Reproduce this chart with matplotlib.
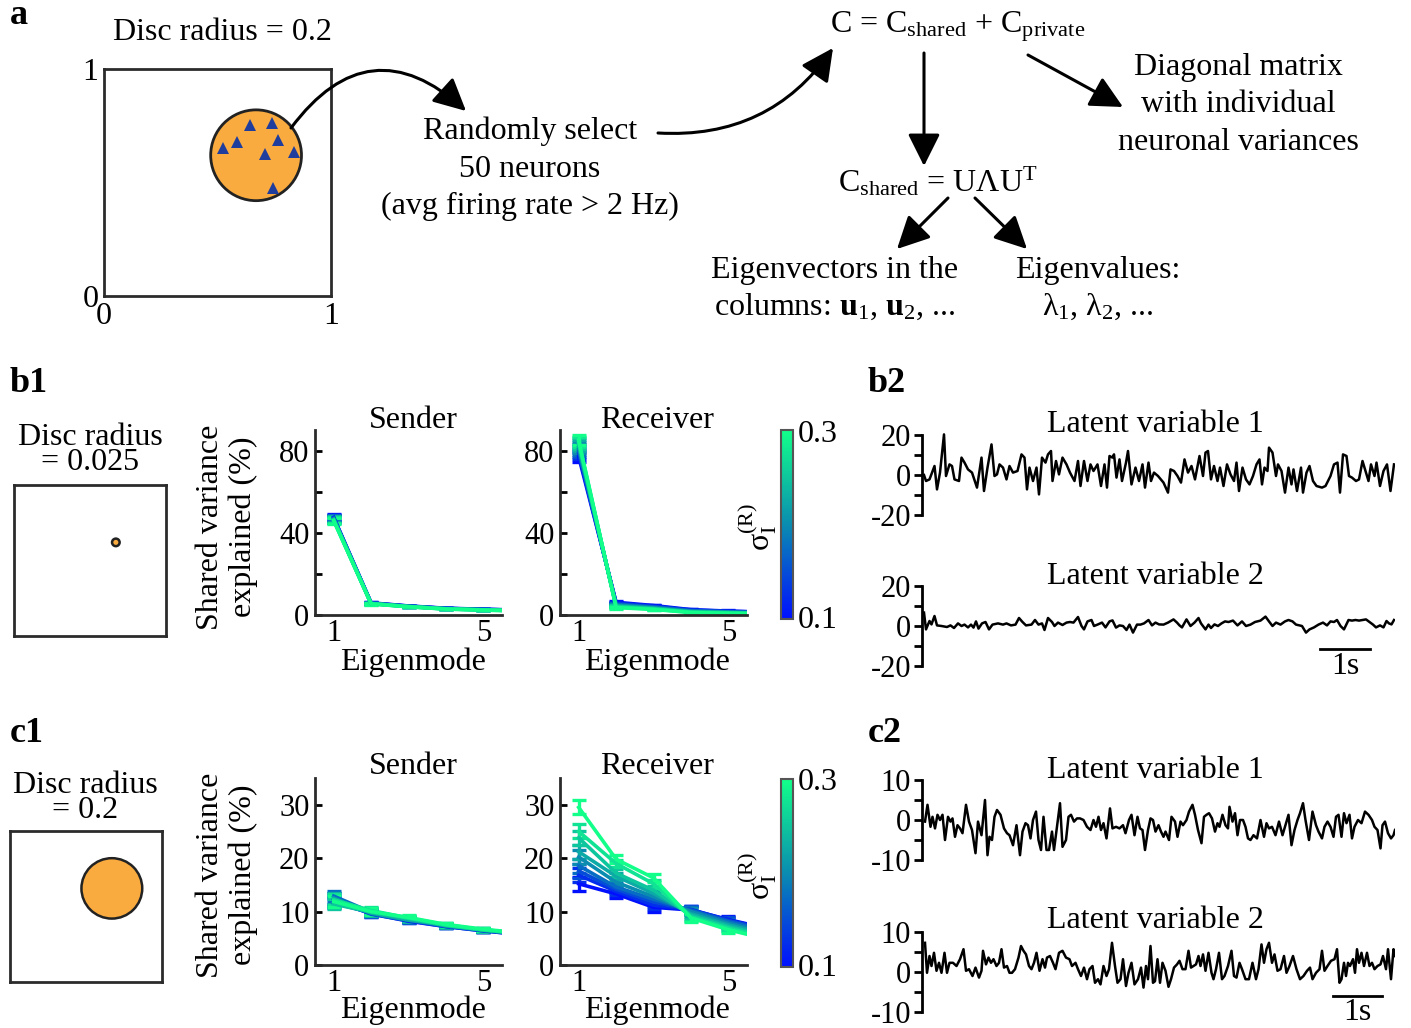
import numpy as np
import matplotlib
matplotlib.use('Agg')
import matplotlib.pyplot as plt
from matplotlib.patches import Circle, FancyArrowPatch
from matplotlib.colors import LinearSegmentedColormap, Normalize
from matplotlib.cm import ScalarMappable

plt.rcParams['font.family'] = ['Liberation Serif', 'DejaVu Serif']
plt.rcParams['mathtext.fontset'] = 'custom'
plt.rcParams['mathtext.rm'] = 'Liberation Serif'
plt.rcParams['mathtext.it'] = 'Liberation Serif:italic'
plt.rcParams['mathtext.bf'] = 'Liberation Serif:bold'
plt.rcParams['axes.unicode_minus'] = False

# ---------------- data ----------------
disc_center = (0.67, 0.62)
disc_radius_a = 0.2
disc_radius_b = 0.025
disc_radius_c = 0.2
neuron_x = [0.643, 0.740, 0.586, 0.524, 0.767, 0.709, 0.837, 0.744]
neuron_y = [0.753, 0.762, 0.678, 0.652, 0.687, 0.626, 0.634, 0.476]

modes = [1, 2, 3, 4, 5, 6]
sigmas = [0.1, 0.125, 0.15, 0.175, 0.2, 0.225, 0.25, 0.275, 0.3]

b1_send = [
    [47.5, 5.9, 4.4, 3.3, 2.8, 2.4],
    [47.3, 5.8, 4.3, 3.2, 2.7, 2.3],
    [47.1, 5.7, 4.3, 3.2, 2.7, 2.3],
    [46.9, 5.7, 4.2, 3.1, 2.6, 2.2],
    [46.7, 5.6, 4.2, 3.1, 2.6, 2.2],
    [46.5, 5.6, 4.1, 3.0, 2.5, 2.1],
    [46.3, 5.5, 4.1, 3.0, 2.5, 2.1],
    [46.1, 5.5, 4.0, 2.9, 2.4, 2.0],
    [45.9, 5.4, 4.0, 2.9, 2.4, 2.0],
]
b1_send_err = [1.5, 0.3, 0.2, 0.2, 0.2, 0.2]

b1_recv = [
    [77.0, 6.2, 4.6, 2.6, 1.9, 1.4],
    [78.5, 5.8, 4.3, 2.4, 1.8, 1.3],
    [79.5, 5.4, 4.0, 2.2, 1.6, 1.2],
    [80.5, 5.1, 3.8, 2.0, 1.5, 1.1],
    [81.5, 4.8, 3.5, 1.8, 1.3, 1.0],
    [82.5, 4.5, 3.3, 1.6, 1.2, 0.9],
    [83.5, 4.2, 3.1, 1.5, 1.1, 0.8],
    [84.3, 3.9, 2.9, 1.3, 0.9, 0.7],
    [85.0, 3.6, 2.7, 1.2, 0.8, 0.6],
]
b1_recv_err = [2.5, 0.5, 0.4, 0.3, 0.3, 0.2]

c1_send = [
    [12.0, 9.6, 8.2, 7.2, 6.4, 5.7],
    [11.6, 9.8, 8.4, 7.3, 6.5, 5.8],
    [12.4, 9.5, 8.3, 7.2, 6.4, 5.7],
    [12.9, 9.9, 8.5, 7.4, 6.5, 5.8],
    [11.8, 10.1, 8.6, 7.3, 6.6, 5.8],
    [12.5, 9.7, 8.4, 7.5, 6.5, 5.9],
    [11.4, 9.9, 8.7, 7.4, 6.6, 5.9],
    [12.2, 10.2, 8.8, 7.5, 6.6, 5.9],
    [11.9, 10.0, 8.9, 7.6, 6.7, 6.0],
]
c1_send_err = [1.0, 0.6, 0.4, 0.3, 0.3, 0.2]

c1_recv = [
    [15.2, 13.3, 10.8, 10.3, 8.5, 6.9],
    [16.8, 13.8, 11.2, 10.4, 8.4, 6.8],
    [17.6, 14.2, 11.8, 10.3, 8.3, 6.6],
    [18.6, 14.6, 12.3, 10.2, 8.1, 6.4],
    [20.2, 15.5, 12.8, 10.0, 7.8, 6.1],
    [21.2, 16.6, 13.4, 9.6, 7.5, 5.8],
    [23.8, 17.2, 14.0, 9.3, 7.2, 5.5],
    [25.0, 19.0, 15.2, 9.0, 6.9, 5.2],
    [29.5, 19.8, 16.3, 8.8, 6.6, 4.9],
]
c1_recv_err = [1.3, 0.7, 0.8, 0.7, 0.6, 0.5]

# latent variable traces (time in s, value)
b2_l1_t = [0.00, 0.04, 0.11, 0.21, 0.26, 0.32, 0.40, 0.44, 0.51, 0.56, 0.61, 0.70, 0.75, 0.81, 0.88, 0.96,
           1.06, 1.15, 1.20, 1.27, 1.35, 1.41, 1.46, 1.51, 1.58, 1.65, 1.71, 1.78, 1.87, 1.95, 2.01, 2.06,
           2.11, 2.18, 2.25, 2.30, 2.36, 2.43, 2.48, 2.54, 2.57, 2.64, 2.70, 2.77, 2.85, 2.92, 3.01, 3.08,
           3.13, 3.20, 3.27, 3.33, 3.39, 3.47, 3.54, 3.61, 3.66, 3.71, 3.77, 3.80, 3.85, 3.91, 3.96, 4.04,
           4.08, 4.15, 4.23, 4.30, 4.37, 4.42, 4.49, 4.54, 4.60, 4.68, 4.79, 4.88, 4.93, 5.00, 5.07, 5.14,
           5.21, 5.28, 5.35, 5.42, 5.51, 5.58, 5.63, 5.68, 5.74, 5.80, 5.87, 5.92, 5.99, 6.06, 6.13, 6.20,
           6.25, 6.30, 6.37, 6.44, 6.51, 6.58, 6.65, 6.71, 6.76, 6.81, 6.87, 6.90, 6.97, 7.04, 7.08, 7.15,
           7.22, 7.29, 7.35, 7.39, 7.46, 7.54, 7.58, 7.65, 7.71, 7.78, 7.85, 7.96, 8.03, 8.13, 8.20, 8.27,
           8.32, 8.38, 8.45, 8.50, 8.56, 8.64, 8.70, 8.77, 8.84, 8.89, 8.94, 9.01, 9.05, 9.12, 9.19, 9.26,
           9.33, 9.40]
b2_l1_v = [0.0, -3.0, -2.2, 4.5, -7.2, 1.2, 20.3, -0.5, 5.3, 4.5, -2.2, -3.0, 8.7, 6.2, 2.8, 1.2,
           -6.3, 8.7, -8.0, 3.7, 15.3, -0.5, 0.3, 5.3, 3.7, -2.2, 4.5, 1.2, 2.0, 10.3, 8.7, -7.2,
           3.7, -3.0, 3.7, -9.7, 8.7, 6.2, 10.3, 12.0, -3.0, 7.0, 0.3, 8.7, 5.3, 1.2, -3.0, 7.0,
           -5.5, 7.0, -3.0, 5.3, 2.0, 5.3, -5.5, 5.3, -6.3, 9.5, 8.7, 10.3, -1.3, 7.8, -3.0, 6.2,
           12.0, -4.7, 3.7, -3.0, 5.3, -6.3, 6.2, -3.0, 1.2, -0.5, -3.8, -8.8, 2.8, 2.0, -0.5, -3.8,
           7.8, 1.2, 4.5, -2.2, 9.5, -0.5, 11.2, 12.0, -2.2, 4.5, -3.0, 3.7, -5.5, 5.3, 0.3, -3.0,
           6.2, -8.0, 3.7, -2.2, -4.7, -0.5, 5.3, 7.8, -4.7, 3.7, 2.0, 13.7, 11.2, -0.5, 5.3, 2.0,
           -8.8, 3.7, -4.7, 2.8, -8.0, 3.7, -8.8, 1.2, 4.5, -3.0, -5.5, -6.3, -5.5, -0.5, 5.3, 6.2,
           -8.8, 10.3, 9.5, -0.5, -1.3, -3.0, -2.2, 7.0, 1.2, -3.0, 5.3, -0.5, 6.2, -5.5, 2.0, 5.3,
           -8.0, 5.3]

b2_l2_t = [0.00, 0.04, 0.11, 0.15, 0.21, 0.26, 0.35, 0.46, 0.53, 0.60, 0.68, 0.75, 0.81, 0.88, 0.94, 0.99,
           1.04, 1.09, 1.16, 1.23, 1.30, 1.37, 1.48, 1.58, 1.65, 1.74, 1.83, 1.90, 1.97, 2.04, 2.15, 2.22,
           2.29, 2.36, 2.41, 2.48, 2.56, 2.61, 2.68, 2.77, 2.85, 2.92, 2.99, 3.08, 3.15, 3.20, 3.27, 3.35,
           3.40, 3.47, 3.56, 3.63, 3.71, 3.77, 3.84, 3.91, 3.98, 4.05, 4.11, 4.18, 4.26, 4.33, 4.40, 4.49,
           4.56, 4.63, 4.70, 4.79, 4.88, 4.99, 5.06, 5.11, 5.16, 5.25, 5.33, 5.41, 5.49, 5.54, 5.63, 5.69,
           5.74, 5.81, 5.88, 5.95, 6.02, 6.09, 6.18, 6.27, 6.36, 6.44, 6.53, 6.62, 6.73, 6.83, 6.90, 6.97,
           7.04, 7.13, 7.22, 7.29, 7.37, 7.44, 7.56, 7.64, 7.71, 7.80, 7.89, 7.98, 8.06, 8.13, 8.20, 8.26,
           8.33, 8.40, 8.49, 8.56, 8.63, 8.70, 8.77, 8.84, 8.91, 8.98, 9.04, 9.12, 9.19, 9.25, 9.30, 9.35,
           9.40]
b2_l2_v = [6.7, -1.7, 2.5, 0.8, 5.0, 0.3, 0.0, -0.5, 0.3, -1.0, 1.3, 0.0, 0.7, -0.7, 0.7, -0.8,
           2.3, -1.3, 1.3, 2.0, -1.7, 0.7, 1.3, 0.7, 1.3, 0.3, 0.7, 4.0, 2.0, 0.3, 0.7, 3.0,
           0.7, 1.3, -2.0, 4.0, 2.0, 0.0, 1.7, 0.5, 1.7, 2.0, 1.7, 4.5, 0.0, -1.7, 2.3, 3.0,
           0.0, 0.7, 1.7, -0.7, 2.3, 2.8, -0.8, 0.3, 0.0, -2.0, 0.7, -3.3, 0.7, 0.7, 1.3, 3.0,
           0.3, 1.7, 0.8, 0.7, 1.7, 3.3, 1.7, 0.3, -0.7, 3.3, 0.0, 1.7, 4.0, 1.3, -1.7, 0.7,
           -1.0, 0.8, 0.0, 1.3, 2.3, 2.0, 2.7, 0.3, 2.3, 0.0, 0.7, 2.0, 2.7, 4.7, 2.3, 0.0,
           1.7, 0.7, 2.3, 3.0, 2.3, 0.7, 0.0, -3.3, -1.7, -0.7, 0.7, 1.7, 0.3, 2.3, 2.0, 3.0,
           0.0, -1.7, 3.0, 2.7, 3.0, 2.7, 3.0, 3.3, 2.0, 0.7, -0.7, 0.3, -0.7, 2.5, 1.3, 0.8,
           3.0]

c2_l1_t = [0.00, 0.05, 0.11, 0.15, 0.20, 0.25, 0.30, 0.35, 0.40, 0.46, 0.51, 0.55, 0.60, 0.65, 0.70, 0.75,
           0.82, 0.88, 0.94, 1.01, 1.06, 1.13, 1.20, 1.25, 1.29, 1.34, 1.39, 1.44, 1.51, 1.58, 1.64, 1.69,
           1.76, 1.83, 1.90, 1.95, 2.01, 2.06, 2.11, 2.16, 2.22, 2.27, 2.32, 2.37, 2.43, 2.48, 2.54, 2.58,
           2.64, 2.70, 2.75, 2.82, 2.87, 2.92, 2.98, 3.04, 3.10, 3.17, 3.24, 3.31, 3.37, 3.42, 3.47, 3.52,
           3.57, 3.63, 3.70, 3.75, 3.82, 3.89, 3.96, 4.01, 4.08, 4.13, 4.19, 4.25, 4.30, 4.35, 4.40, 4.46,
           4.51, 4.56, 4.61, 4.67, 4.72, 4.77, 4.81, 4.88, 4.93, 5.00, 5.05, 5.11, 5.16, 5.23, 5.28, 5.35,
           5.40, 5.46, 5.53, 5.58, 5.63, 5.68, 5.74, 5.80, 5.85, 5.89, 5.95, 6.01, 6.06, 6.09, 6.15, 6.20,
           6.25, 6.30, 6.36, 6.41, 6.46, 6.51, 6.57, 6.64, 6.71, 6.78, 6.83, 6.88, 6.94, 7.01, 7.08, 7.15,
           7.20, 7.27, 7.33, 7.39, 7.45, 7.50, 7.56, 7.61, 7.68, 7.75, 7.82, 7.87, 7.94, 7.99, 8.05, 8.11,
           8.17, 8.22, 8.27, 8.33, 8.38, 8.43, 8.49, 8.54, 8.59, 8.66, 8.73, 8.80, 8.87, 8.94, 8.99, 9.05,
           9.11, 9.15, 9.20, 9.26, 9.32, 9.37, 9.40]
c2_l1_v = [-0.4, 3.8, -1.7, 0.8, -2.1, 1.3, 0.0, 1.3, -5.0, 0.8, -0.4, 0.4, -4.2, -1.3, -2.1, -3.3,
           3.8, -0.4, -2.5, -8.3, -0.4, -3.8, 5.0, -8.8, -4.2, -5.0, 0.8, 2.5, 1.3, -2.1, -3.3, -3.8,
           -6.3, -1.3, -8.8, -2.9, -0.8, -1.3, -4.6, 0.0, 2.1, -5.0, -7.5, 0.8, -7.5, -7.5, -2.9, -7.5,
           -1.7, 4.2, -6.7, -5.0, 0.8, 1.3, -0.4, 0.4, 0.4, 0.0, -1.7, -2.5, 0.0, -1.7, 0.8, -2.5,
           -0.8, -4.6, 2.9, -2.1, -1.7, -2.1, -1.3, -3.3, 0.0, 1.3, -3.8, 0.8, -2.1, -2.5, -7.5, -2.5,
           0.4, 0.0, -2.9, -1.3, -2.9, -4.2, -2.9, -5.0, 0.8, -0.4, -4.2, -0.4, -1.3, 0.0, 2.1, 3.8,
           1.3, -2.5, -5.8, 0.8, 1.3, 1.7, 0.4, -2.9, -0.8, -1.7, 1.3, -1.3, -2.1, 3.3, -0.4, 1.7,
           -3.8, 0.0, 0.0, -1.7, -4.6, -5.0, -3.8, -4.6, 0.0, -4.2, -0.8, -2.1, -1.7, -3.8, -0.4, -3.8,
           -1.7, 1.3, -6.3, -2.5, 0.0, 1.7, 4.2, 0.0, -5.0, 2.1, -1.3, -2.9, -4.6, -1.7, -0.4, -1.7,
           -4.2, 0.8, 1.3, -4.2, 1.7, -0.8, 1.3, -4.6, -1.7, 0.0, -0.8, 2.1, 1.3, 0.0, -1.7, -2.5,
           -7.1, -1.3, -0.4, -3.3, -4.6, -3.8, -2.5]

c2_l2_t = [0.00, 0.04, 0.09, 0.13, 0.18, 0.23, 0.28, 0.33, 0.39, 0.44, 0.49, 0.56, 0.63, 0.70, 0.77, 0.82,
           0.88, 0.95, 1.01, 1.08, 1.13, 1.16, 1.22, 1.27, 1.32, 1.37, 1.43, 1.48, 1.53, 1.58, 1.64, 1.69,
           1.74, 1.80, 1.87, 1.92, 1.97, 2.02, 2.08, 2.13, 2.18, 2.23, 2.29, 2.35, 2.40, 2.44, 2.50, 2.56,
           2.61, 2.68, 2.75, 2.82, 2.89, 2.94, 3.01, 3.06, 3.12, 3.18, 3.24, 3.29, 3.35, 3.40, 3.46, 3.51,
           3.57, 3.63, 3.68, 3.74, 3.80, 3.85, 3.91, 3.96, 4.02, 4.07, 4.13, 4.19, 4.26, 4.32, 4.37, 4.42,
           4.46, 4.51, 4.56, 4.60, 4.65, 4.70, 4.75, 4.81, 4.87, 4.92, 4.98, 5.04, 5.09, 5.15, 5.21, 5.27,
           5.32, 5.37, 5.42, 5.47, 5.51, 5.56, 5.61, 5.67, 5.73, 5.77, 5.82, 5.88, 5.94, 5.99, 6.06, 6.13,
           6.18, 6.23, 6.29, 6.34, 6.41, 6.48, 6.55, 6.62, 6.67, 6.73, 6.78, 6.83, 6.88, 6.94, 6.99, 7.05,
           7.11, 7.18, 7.23, 7.29, 7.36, 7.43, 7.50, 7.57, 7.64, 7.70, 7.75, 7.82, 7.89, 7.94, 7.99, 8.05,
           8.12, 8.19, 8.24, 8.29, 8.33, 8.38, 8.42, 8.46, 8.50, 8.56, 8.60, 8.64, 8.68, 8.73, 8.78, 8.84,
           8.89, 8.94, 8.99, 9.05, 9.11, 9.16, 9.22, 9.26, 9.32, 9.37, 9.40]
c2_l2_v = [7.3, -0.2, 4.0, 1.5, 4.8, 0.3, 2.3, -0.2, 4.8, -0.2, 2.3, 2.3, 1.5, 3.2, 5.7, 0.3,
           0.7, -1.0, 1.1, -1.4, 0.3, 5.3, 1.9, 3.6, 2.3, 3.2, 1.5, 2.3, 5.7, 1.1, 1.5, -0.2,
           -0.2, 0.7, 3.6, 6.5, 5.3, 4.4, 1.5, 0.7, 2.3, 4.8, 0.3, 3.2, 1.1, 3.6, 4.0, 2.3,
           0.7, 4.8, 5.3, 3.6, 3.2, 1.5, 2.3, 0.7, -1.0, 1.1, -1.8, 0.7, 1.5, -2.7, -1.8, -3.1,
           1.5, -1.0, 0.7, 7.3, 1.5, -2.7, -1.8, 3.2, -3.5, -0.2, 2.3, -3.1, -1.8, 1.1, -3.9, 1.5,
           -1.8, 6.5, -2.7, -2.3, 3.2, -2.7, 2.3, 0.3, -3.7, -1.8, 1.1, 1.9, 2.8, 0.7, 0.7, 5.3,
           1.1, 1.5, 1.9, 4.0, 1.5, 4.4, 0.3, 4.8, -0.2, -1.8, 0.7, 4.8, -1.8, -1.0, 1.5, 5.3,
           -1.0, -1.4, 2.3, 0.7, -1.8, -1.8, 2.3, -1.8, 0.7, 6.9, 2.3, 5.7, 7.3, 2.3, 4.4, 0.3,
           0.7, 4.0, -0.2, 1.5, 4.0, 0.7, -1.8, -1.0, 0.3, 1.1, -1.8, -0.2, 0.7, 5.3, 0.3, 1.5,
           2.8, 3.2, 5.7, -2.7, -1.8, 2.3, -1.0, 2.3, 1.5, 3.2, -0.2, 5.7, 2.3, 4.8, 1.5, 4.8,
           1.5, 2.3, 0.7, 1.5, 1.9, 4.0, 0.7, 5.7, -1.8, 5.7, 4.0]

# ---------------- figure ----------------
W, H = 1411, 1028
fig = plt.figure(figsize=(W / 100, H / 100), dpi=100)

FS = 23
TICK_FS = 22
SPINE = '#2b2b2b'


def px_axes(x0, y0, x1, y1):
    return fig.add_axes([x0 / W, 1 - y1 / H, (x1 - x0) / W, (y1 - y0) / H])


ov = fig.add_axes([0, 0, 1, 1], zorder=10)
ov.set_xlim(0, W)
ov.set_ylim(H, 0)
ov.axis('off')


def otext(x, y, s, **kw):
    kw.setdefault('fontsize', FS)
    kw.setdefault('ha', 'center')
    kw.setdefault('va', 'center')
    ov.text(x, y, s, **kw)


def arrow(p0, p1, rad=0.0, lw=2.2):
    a = FancyArrowPatch(p0, p1, connectionstyle='arc3,rad=%s' % rad,
                        arrowstyle='-|>,head_length=0.9,head_width=0.45',
                        mutation_scale=22, lw=lw, color='black',
                        shrinkA=0, shrinkB=0)
    ov.add_patch(a)


cmap = LinearSegmentedColormap.from_list('sig', ['#0010ff', '#0a8cb0', '#12ff8a'])
norm = Normalize(min(sigmas), max(sigmas))
SIG_LABEL = '\u03c3$_{\\mathrm{I}}^{\\mathrm{(R)}}$'

# ---------------- panel a ----------------
otext(10, 16, 'a', fontsize=26, fontweight='bold', ha='left')
otext(222, 33, 'Disc radius = 0.2')
axA = px_axes(104, 69, 331, 296)
axA.set_xlim(0, 1)
axA.set_ylim(0, 1)
axA.set_xticks([0, 1])
axA.set_yticks([0, 1])
axA.tick_params(length=0, labelsize=FS, pad=4)
for s in axA.spines.values():
    s.set_linewidth(2)
    s.set_color(SPINE)
axA.add_patch(Circle(disc_center, disc_radius_a, fc='#f9ab3f', ec='#222222', lw=2))
axA.plot(neuron_x, neuron_y, '^', color='#1f3d9c', ms=9, mew=0)

otext(530, 169, 'Randomly select\n50 neurons\n(avg firing rate > 2 Hz)', linespacing=1.38)
arrow((291, 128), (466, 111), rad=-0.55)
arrow((658, 133), (833, 48), rad=0.28)

otext(830, 33, r'C = C$_{\mathrm{shared}}$ + C$_{\mathrm{private}}$', ha='left', va='baseline')
arrow((924, 53), (924, 166))
arrow((1028, 55), (1123, 107))
otext(1238, 105, 'Diagonal matrix\nwith individual\nneuronal variances', linespacing=1.38)
otext(838, 192, r'C$_{\mathrm{shared}}$ = U$\Lambda$U$^{\mathrm{T}}$', ha='left', va='baseline')
arrow((948, 198), (897, 249))
arrow((975, 198), (1027, 249))
otext(835, 289, 'Eigenvectors in the\ncolumns: $\\mathbf{u}_{1}$, $\\mathbf{u}_{2}$, ...', linespacing=1.3)
otext(1098, 289, 'Eigenvalues:\n\u03bb$_{1}$, \u03bb$_{2}$, ...', linespacing=1.3)


# ---------------- helpers ----------------
def disc_box(rect, radius):
    ax = px_axes(*rect)
    ax.set_xlim(0, 1)
    ax.set_ylim(0, 1)
    ax.set_xticks([])
    ax.set_yticks([])
    for s in ax.spines.values():
        s.set_linewidth(2)
        s.set_color(SPINE)
    ax.add_patch(Circle(disc_center, radius, fc='#f9ab3f', ec='#222222', lw=1.8))
    return ax


def spectrum(rect, data, err, ylim, yticks, ylabels):
    ax = px_axes(*rect)
    for sig, row in zip(sigmas, data):
        ax.errorbar(modes, row, yerr=err, color=cmap(norm(sig)), lw=2.6,
                    elinewidth=2.4, capsize=5, capthick=2.4)
    ax.set_xlim(0.5, 5.5)
    ax.set_ylim(*ylim)
    ax.set_xticks([1, 5])
    ax.set_yticks(yticks)
    ax.set_yticklabels(ylabels)
    ax.tick_params(axis='x', length=0, labelsize=TICK_FS, pad=3)
    ax.tick_params(axis='y', length=5, width=2, direction='in', labelsize=TICK_FS, pad=4)
    for k in ['top', 'right']:
        ax.spines[k].set_visible(False)
    for k in ['left', 'bottom']:
        ax.spines[k].set_linewidth(2)
        ax.spines[k].set_color(SPINE)
    return ax


def cbar(rect):
    cax = px_axes(*rect)
    sm = ScalarMappable(norm=norm, cmap=cmap)
    cb = fig.colorbar(sm, cax=cax, ticks=[])
    cb.outline.set_linewidth(1.5)
    cb.outline.set_edgecolor('#555555')
    return cb


def trace(rect, t, v, ylim, bound, ticks, labels, xlim):
    ax = px_axes(*rect)
    ax.plot(t, v, color='black', lw=1.8)
    ax.set_xlim(*xlim)
    ax.set_ylim(*ylim)
    ax.set_xticks([])
    ax.set_yticks(ticks)
    ax.set_yticklabels(labels)
    ax.tick_params(axis='y', length=6, width=2, labelsize=TICK_FS, pad=2)
    for k in ['top', 'right', 'bottom']:
        ax.spines[k].set_visible(False)
    ax.spines['left'].set_linewidth(2)
    ax.spines['left'].set_bounds(-bound, bound)
    ax.patch.set_alpha(0)
    return ax


# ---------------- panel b1 ----------------
otext(10, 383, 'b1', fontsize=26, fontweight='bold', ha='left')
otext(90, 450, 'Disc radius\n= 0.025', linespacing=0.85)
disc_box((14, 485, 166, 636), disc_radius_b)
spectrum((315, 430, 502, 615), b1_send, b1_send_err, (0, 90), [0, 20, 40, 60, 80], ['0', '', '40', '', '80'])
spectrum((560, 430, 747, 615), b1_recv, b1_recv_err, (0, 90), [0, 20, 40, 60, 80], ['0', '', '40', '', '80'])
otext(227, 527, 'Shared variance\nexplained (%)', rotation=90, linespacing=1.2)
otext(413, 420, 'Sender')
otext(657, 420, 'Receiver')
otext(413, 662, 'Eigenmode')
otext(657, 662, 'Eigenmode')
cbar((781, 430, 793, 619))
otext(818, 434, '0.3')
otext(818, 620, '0.1')
otext(757, 527, SIG_LABEL, rotation=90)

# ---------------- panel b2 ----------------
otext(868, 383, 'b2', fontsize=26, fontweight='bold', ha='left')
trace((922, 425, 1395, 515), b2_l1_t, b2_l1_v, (-20, 25), 20,
      [-20, -10, 0, 10, 20], ['-20', '', '0', '', '20'], (-0.04, 9.42))
otext(1155, 425, 'Latent variable 1')
ax_b2 = trace((922, 576, 1395, 666), b2_l2_t, b2_l2_v, (-20, 25), 20,
              [-20, -10, 0, 10, 20], ['-20', '', '0', '', '20'], (-0.04, 9.42))
otext(1155, 576, 'Latent variable 2')
ax_b2.plot([7.92, 8.92], [-11.5, -11.5], color='black', lw=2, clip_on=False)
otext(1345, 666, '1s')

# ---------------- panel c1 ----------------
otext(10, 733, 'c1', fontsize=26, fontweight='bold', ha='left')
otext(85, 798, 'Disc radius\n= 0.2', linespacing=0.85)
disc_box((10, 831, 162, 982), disc_radius_c)
spectrum((315, 778, 502, 965), c1_send, c1_send_err, (0, 35), [0, 10, 20, 30], ['0', '10', '20', '30'])
spectrum((560, 778, 747, 965), c1_recv, c1_recv_err, (0, 35), [0, 10, 20, 30], ['0', '10', '20', '30'])
otext(227, 875, 'Shared variance\nexplained (%)', rotation=90, linespacing=1.2)
otext(413, 766, 'Sender')
otext(657, 766, 'Receiver')
otext(413, 1010, 'Eigenmode')
otext(657, 1010, 'Eigenmode')
cbar((781, 779, 793, 967))
otext(818, 783, '0.3')
otext(818, 969, '0.1')
otext(757, 876, SIG_LABEL, rotation=90)

# ---------------- panel c2 ----------------
otext(868, 733, 'c2', fontsize=26, fontweight='bold', ha='left')
trace((922, 772, 1395, 860), c2_l1_t, c2_l1_v, (-10, 12), 10,
      [-10, -5, 0, 5, 10], ['-10', '', '0', '', '10'], (-0.06, 9.40))
otext(1155, 770, 'Latent variable 1')
ax_c2 = trace((922, 924, 1395, 1012), c2_l2_t, c2_l2_v, (-10, 12), 10,
              [-10, -5, 0, 5, 10], ['-10', '', '0', '', '10'], (-0.06, 9.40))
otext(1155, 920, 'Latent variable 2')
ax_c2.plot([8.16, 9.14], [-6, -6], color='black', lw=2, clip_on=False)
otext(1357, 1012, '1s')

fig.savefig('out.png', dpi=100)
